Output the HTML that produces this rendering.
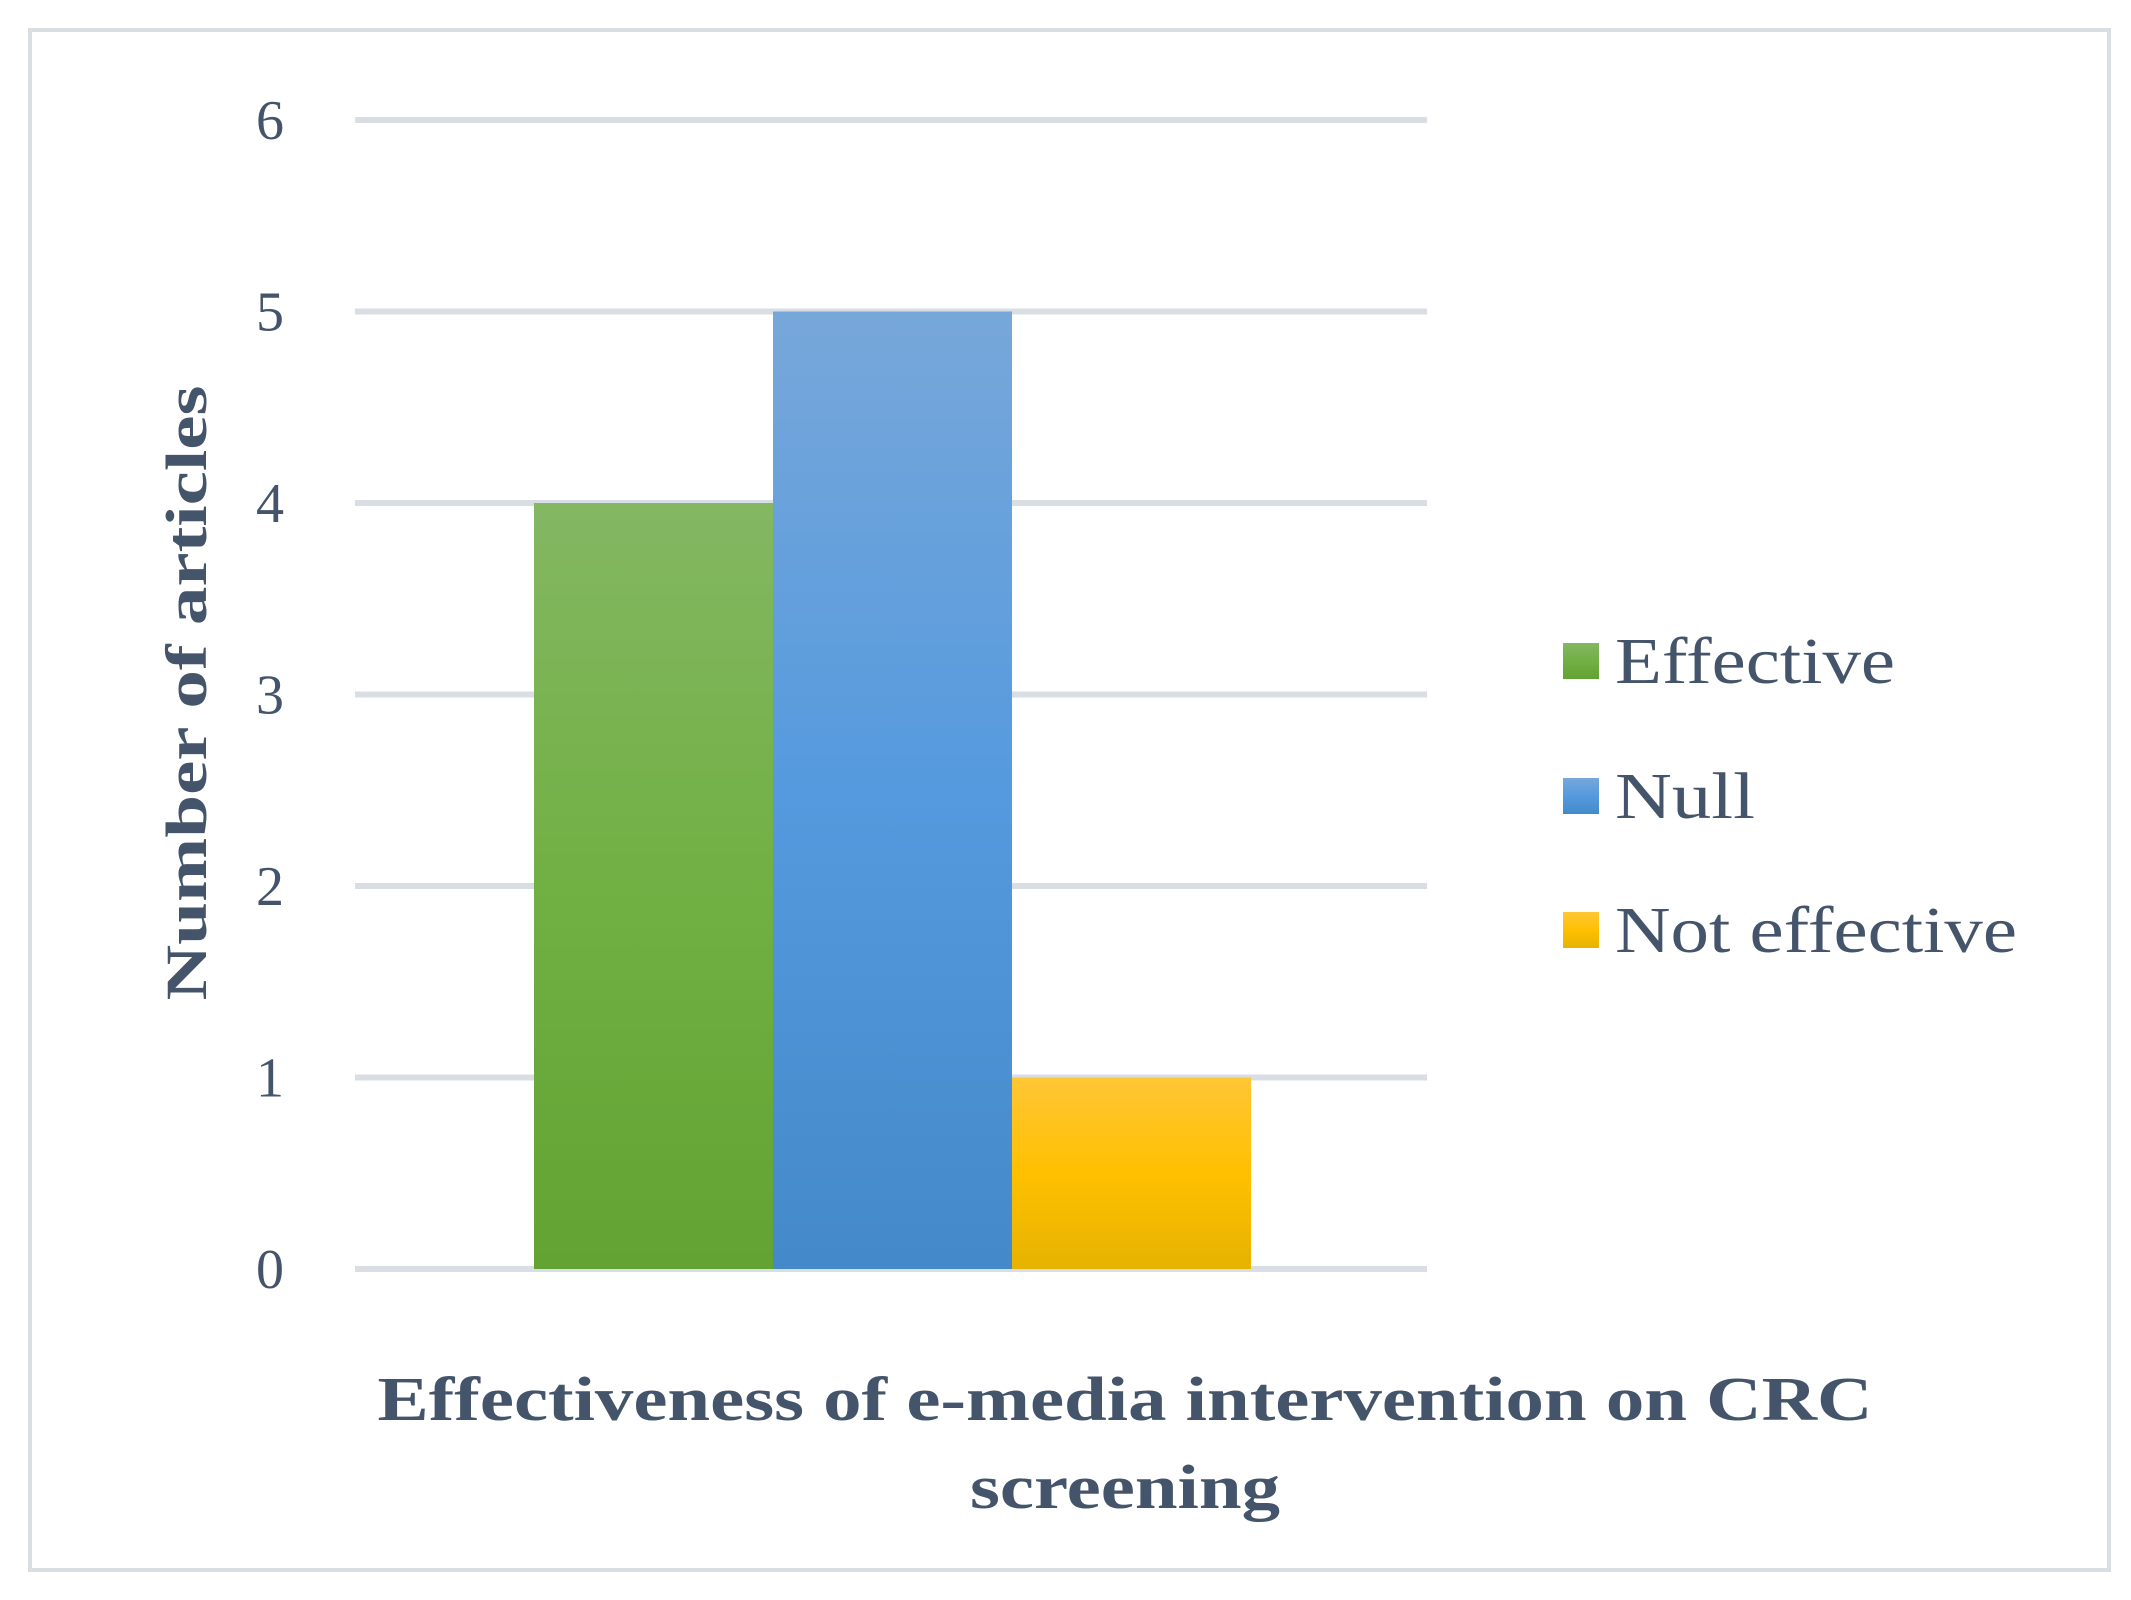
<!DOCTYPE html>
<html><head><meta charset="utf-8"><style>
html,body{margin:0;padding:0;background:#fff}
svg{display:block}
text{font-family:"Liberation Serif",serif;fill:#44546a}
</style></head><body>
<svg id="chart" width="2131" height="1600" xmlns="http://www.w3.org/2000/svg">
<defs>
<linearGradient id="gG" x1="0" y1="0" x2="0" y2="1"><stop offset="0" stop-color="#84b762"/><stop offset="0.5" stop-color="#71b043"/><stop offset="1" stop-color="#62a333"/></linearGradient>
<linearGradient id="gB" x1="0" y1="0" x2="0" y2="1"><stop offset="0" stop-color="#77a7da"/><stop offset="0.5" stop-color="#559ade"/><stop offset="1" stop-color="#4489c9"/></linearGradient>
<linearGradient id="gY" x1="0" y1="0" x2="0" y2="1"><stop offset="0" stop-color="#ffc636"/><stop offset="0.5" stop-color="#ffc000"/><stop offset="1" stop-color="#e6b300"/></linearGradient>
</defs>
<rect x="30" y="30" width="2079" height="1540" fill="#fff" stroke="#d9dee5" stroke-width="4"/>
<g id="grid"></g>
<g id="bars"></g>
<g id="yticks"></g>
<text x="0" y="0" transform="translate(206,693) rotate(-90)" text-anchor="middle" font-size="58" font-weight="bold" textLength="615" lengthAdjust="spacingAndGlyphs">Number of articles</text>
<text x="1125" y="1420" text-anchor="middle" font-size="62" font-weight="bold" textLength="1495" lengthAdjust="spacingAndGlyphs">Effectiveness of e-media intervention on CRC</text>
<text x="1125" y="1508" text-anchor="middle" font-size="62" font-weight="bold" textLength="310" lengthAdjust="spacingAndGlyphs">screening</text>
<g id="legend"></g>
</svg>
<script>
const categories = ["Effective", "Null", "Not effective"];
const values = [4, 5, 1];
const yTicks = [0, 1, 2, 3, 4, 5, 6];
const fills = ["url(#gG)", "url(#gB)", "url(#gY)"];
const NS = "http://www.w3.org/2000/svg";
const x0 = 355, x1 = 1427, yBase = 1269, yTop = 120, yMax = 6;
function yScale(v){ return yBase - (v / yMax) * (yBase - yTop); }
const barW = 239, barStart = 534;
function xScale(i){ return barStart + i * barW; }
const grid = document.getElementById('grid');
const yt = document.getElementById('yticks');
yTicks.forEach(t => {
  const l = document.createElementNS(NS, 'line');
  l.setAttribute('x1', x0); l.setAttribute('x2', x1);
  l.setAttribute('y1', yScale(t)); l.setAttribute('y2', yScale(t));
  l.setAttribute('stroke', '#d9dee5'); l.setAttribute('stroke-width', '6');
  
  
  grid.appendChild(l);
  const tx = document.createElementNS(NS, 'text');
  tx.setAttribute('x', 270); tx.setAttribute('y', yScale(t) + 19);
  tx.setAttribute('text-anchor', 'middle'); tx.setAttribute('font-size', '56');
  tx.textContent = t;
  
  
  yt.appendChild(tx);
});
const bars = document.getElementById('bars');
values.forEach((v, i) => {
  const r = document.createElementNS(NS, 'rect');
  r.setAttribute('x', xScale(i)); r.setAttribute('y', yScale(v));
  r.setAttribute('width', barW); r.setAttribute('height', yBase - yScale(v));
  r.setAttribute('fill', fills[i]);
  
  
  bars.appendChild(r);
});
const leg = document.getElementById('legend');
const legY = [661, 796, 930];
const legW = [280, 140, 402];
categories.forEach((c, i) => {
  const s = document.createElementNS(NS, 'rect');
  s.setAttribute('x', 1563); s.setAttribute('y', legY[i] - 18);
  s.setAttribute('width', 36); s.setAttribute('height', 36);
  s.setAttribute('fill', fills[i]);
  
  
  leg.appendChild(s);
  const t = document.createElementNS(NS, 'text');
  t.setAttribute('x', 1615); t.setAttribute('y', legY[i] + 22);
  t.setAttribute('font-size', '66');
  t.setAttribute('textLength', legW[i]);
  t.setAttribute('lengthAdjust', 'spacingAndGlyphs');
  t.textContent = c;
  
  
  leg.appendChild(t);
});
</script>
</body></html>
